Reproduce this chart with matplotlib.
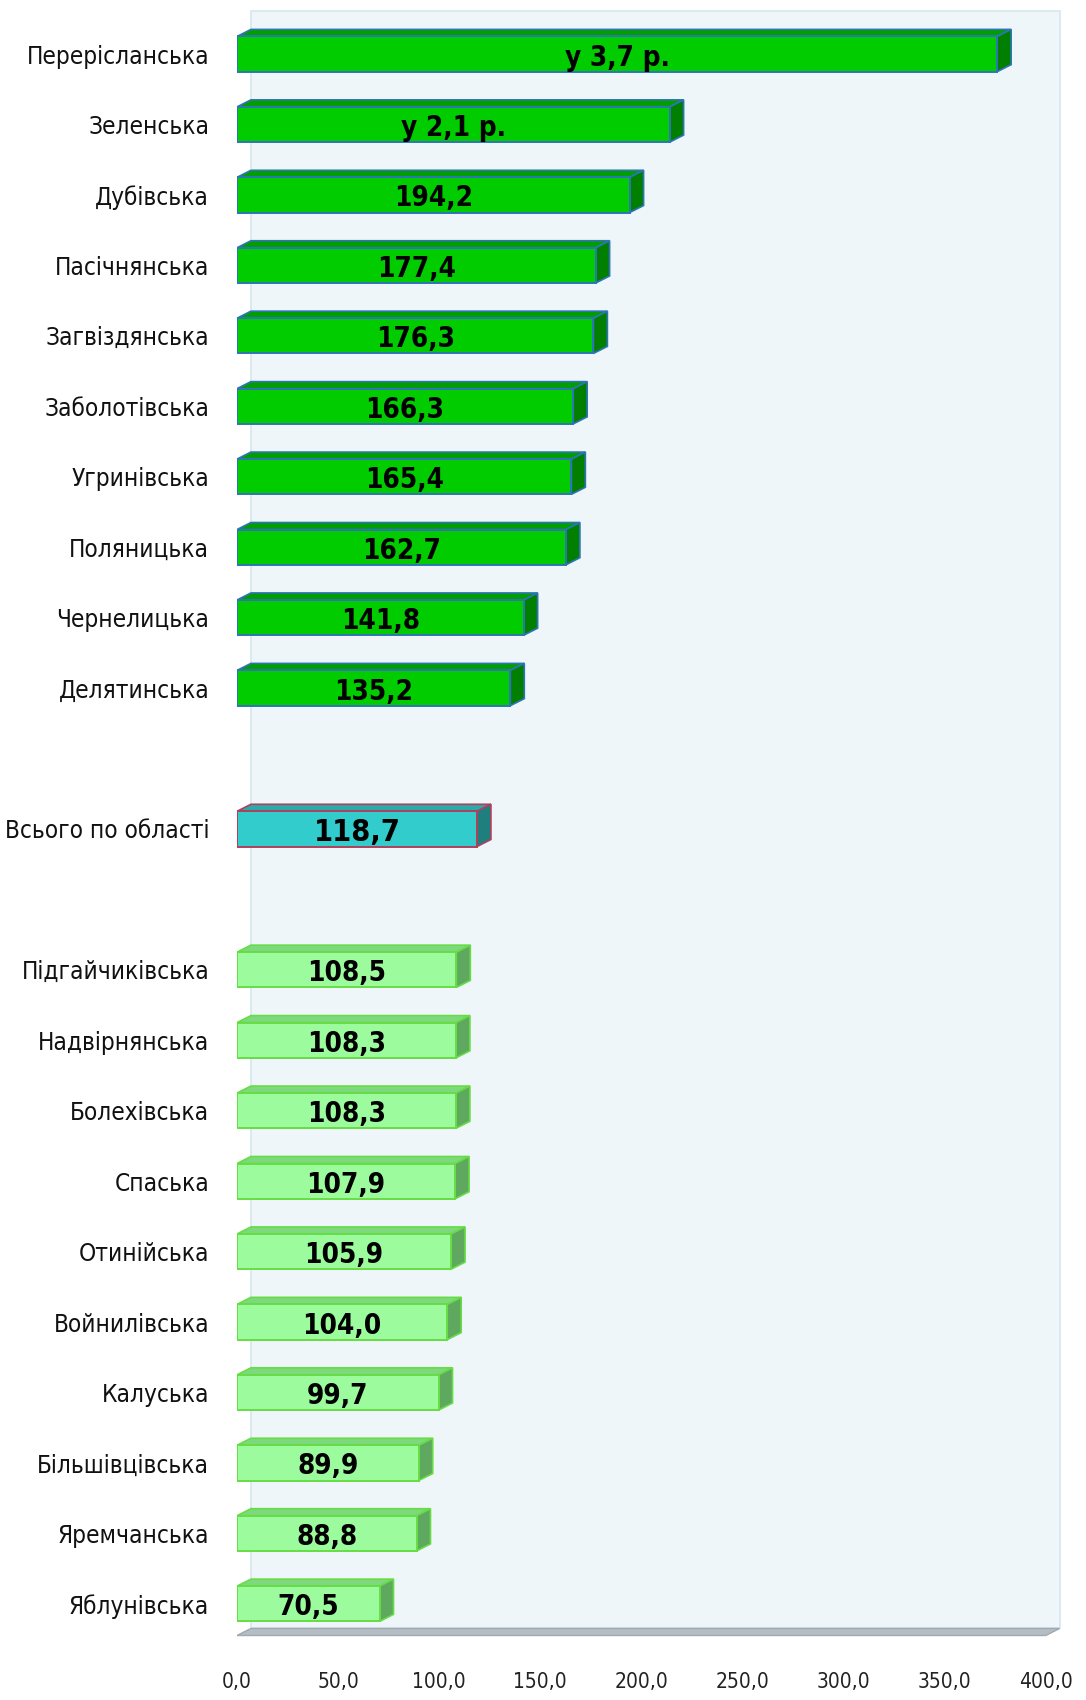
import matplotlib
matplotlib.use('Agg')
import matplotlib.pyplot as plt
from matplotlib.ticker import FuncFormatter

plt.rcParams['font.family'] = ['DejaVu Sans']
plt.rcParams['font.stretch'] = 'condensed'

top_names = ['Перерісланська', 'Зеленська', 'Дубівська', 'Пасічнянська', 'Загвіздянська',
             'Заболотівська', 'Угринівська', 'Поляницька', 'Чернелицька', 'Делятинська']
top_vals = [376.0, 214.0, 194.2, 177.4, 176.3, 166.3, 165.4, 162.7, 141.8, 135.2]
top_text = ['у 3,7 р.', 'у 2,1 р.']

total_name = 'Всього по області'
total_val = 118.7

low_names = ['Підгайчиківська', 'Надвірнянська', 'Болехівська', 'Спаська', 'Отинійська',
             'Войнилівська', 'Калуська', 'Більшівцівська', 'Яремчанська', 'Яблунівська']
low_vals = [108.5, 108.3, 108.3, 107.9, 105.9, 104.0, 99.7, 89.9, 88.8, 70.5]

x_ticks = [0, 50, 100, 150, 200, 250, 300, 350, 400]

# styles: (front, top, side, edge)
STY_TOP = ('#00CC00', '#009E00', '#007F00', '#2E75B6')
STY_TOTAL = ('#33CCCC', '#2AABAB', '#1F7F7F', '#B0405A')
STY_LOW = ('#9CFB9C', '#7ED87E', '#5FA85F', '#66DD44')

DX = 6.9   # depth in value units
DY = 0.10  # depth in slots
H = 0.5

fig = plt.figure(figsize=(10.86, 17), dpi=100)
ax = fig.add_axes([237 / 1086, 0.0338, 0.7726, 0.9634])
ax.set_xlim(0, 415)
ax.set_ylim(22.55, -0.7)

# back wall and floor
floor_y = 22.45
ax.fill([DX, 400 + DX, 400 + DX, DX], [-0.61, -0.61, floor_y - DY, floor_y - DY],
        facecolor='#EEF6FA', edgecolor='#D6E6EF', lw=1.2, zorder=0)
ax.fill([0, 400, 400 + DX, DX], [floor_y, floor_y, floor_y - DY, floor_y - DY],
        facecolor='#B4BCC4', edgecolor='#A0A8B0', lw=1, zorder=1)


def bar3d(y, v, sty, text, size):
    front, topc, side, edge = sty
    ax.barh(y, v, height=H, color=front, edgecolor=edge, lw=1.4, zorder=3)
    y0 = y - H / 2
    y1 = y + H / 2
    ax.fill([0, v, v + DX, DX], [y0, y0, y0 - DY, y0 - DY],
            facecolor=topc, edgecolor=edge, lw=1.2, zorder=2)
    ax.fill([v, v + DX, v + DX, v], [y0, y0 - DY, y1 - DY, y1],
            facecolor=side, edgecolor=edge, lw=1.2, zorder=2)
    ax.text(v / 2, y + 0.05, text, ha='center', va='center', fontsize=size,
            fontweight='bold', color='black', zorder=4)


labels = []
pos = 0
for i, (n, v) in enumerate(zip(top_names, top_vals)):
    t = top_text[i] if i < len(top_text) else f'{v:.1f}'.replace('.', ',')
    bar3d(pos, v, STY_TOP, t, 20)
    labels.append(n)
    pos += 1
labels.append('')
pos += 1
bar3d(pos, total_val, STY_TOTAL, f'{total_val:.1f}'.replace('.', ','), 22)
labels.append(total_name)
pos += 1
labels.append('')
pos += 1
for n, v in zip(low_names, low_vals):
    bar3d(pos, v, STY_LOW, f'{v:.1f}'.replace('.', ','), 20)
    labels.append(n)
    pos += 1

ax.set_yticks(range(len(labels)))
ax.set_yticklabels(labels, fontsize=17.5, color='#111111')
ax.set_xticks(x_ticks)
ax.xaxis.set_major_formatter(FuncFormatter(lambda x, p: f'{x:.1f}'.replace('.', ',')))
ax.tick_params(axis='x', length=0, pad=21, labelsize=15, labelcolor='#222222')
ax.tick_params(axis='y', length=0, pad=20)
for s in ax.spines.values():
    s.set_visible(False)
ax.patch.set_visible(False)

fig.savefig('out.png', dpi=100)
